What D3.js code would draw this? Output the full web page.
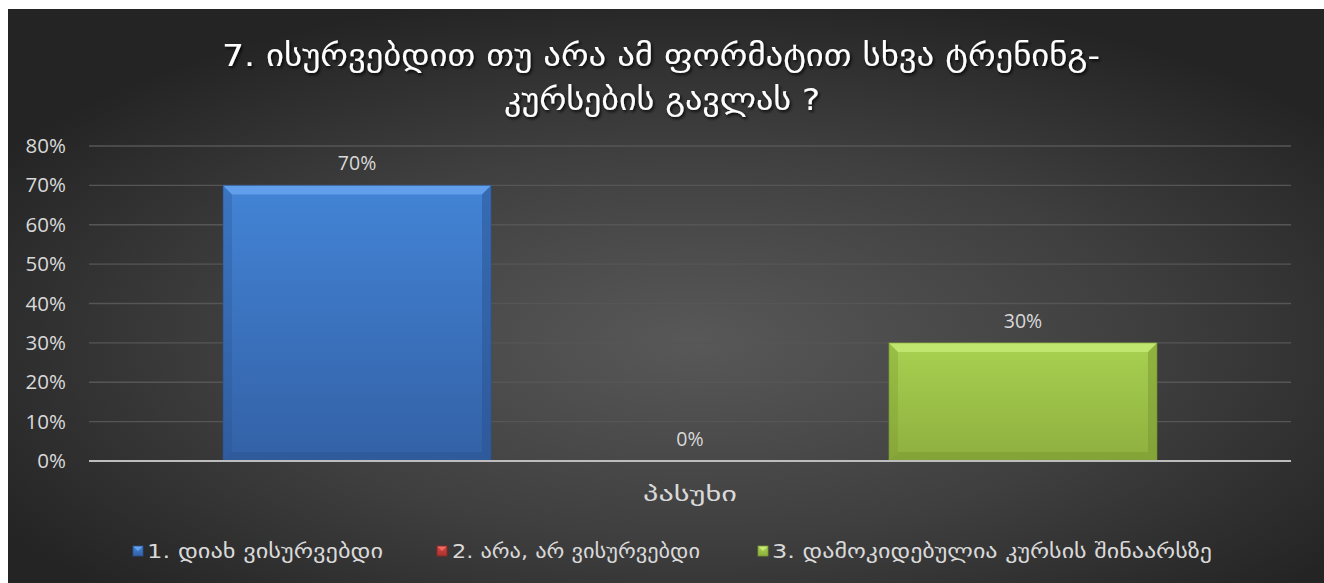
<!DOCTYPE html>
<html>
<head>
<meta charset="utf-8">
<script src="https://cdn.jsdelivr.net/npm/d3@7/dist/d3.min.js"></script>
<style>
  html, body { margin: 0; padding: 0; background: #ffffff; }
  svg { display: block; }
</style>
</head>
<body>
<div id="chart"></div>
<script>
// Survey question 7 — share of answers per option
const categories = ["პასუხი"];
const seriesNames = [
  "1. დიახ ვისურვებდი",
  "2. არა, არ ვისურვებდი",
  "3. დამოკიდებულია კურსის შინაარსზე"
];
const seriesValues = [0.70, 0.00, 0.30];
const yTicks = [0, 0.1, 0.2, 0.3, 0.4, 0.5, 0.6, 0.7, 0.8];
const titleLines = [
  "7. ისურვებდით თუ არა ამ ფორმატით სხვა ტრენინგ-",
  "კურსების გავლას ?"
];
const seriesColors = [
  { top: "#4384d6", bottom: "#3361a6", light: "#66a3ee", dark: "#2a5290" },
  { top: "#d6453f", bottom: "#a83330", light: "#ee6a64", dark: "#8a2622" },
  { top: "#a8d150", bottom: "#8eaf3f", light: "#c6ea74", dark: "#77952f" }
];

const W = 1324, H = 583;
const frame = { x: 8, y: 9 };
const margin = { left: 89, right: 33, top: 146, bottom: 122 };
const GEO_FONT = "'DejaVu Sans', sans-serif";
const NUM_FONT = "'Open Sans', 'Liberation Sans', sans-serif";

const svg = d3.select("#chart").append("svg")
  .attr("width", W).attr("height", H);
const defs = svg.append("defs");

// background radial glow
const bg = defs.append("radialGradient").attr("id", "bgGrad")
  .attr("cx", "52%").attr("cy", "58%").attr("r", "62%");
bg.append("stop").attr("offset", "0%").attr("stop-color", "#585858");
bg.append("stop").attr("offset", "55%").attr("stop-color", "#3f3f3f");
bg.append("stop").attr("offset", "100%").attr("stop-color", "#242424");

svg.append("rect")
  .attr("x", frame.x).attr("y", frame.y)
  .attr("width", W - frame.x).attr("height", H - frame.y)
  .attr("fill", "url(#bgGrad)");

// title shadow
const shadow = defs.append("filter").attr("id", "titleShadow")
  .attr("x", "-10%").attr("y", "-30%").attr("width", "120%").attr("height", "160%");
shadow.append("feDropShadow").attr("dx", 1.5).attr("dy", 2)
  .attr("stdDeviation", 1.5).attr("flood-color", "#000").attr("flood-opacity", 0.85);

// bar gradients
seriesColors.forEach((c, i) => {
  const g = defs.append("linearGradient").attr("id", "barGrad" + i)
    .attr("x1", 0).attr("y1", 0).attr("x2", 0).attr("y2", 1);
  g.append("stop").attr("offset", "0%").attr("stop-color", c.top);
  g.append("stop").attr("offset", "100%").attr("stop-color", c.bottom);
});

const plotW = W - margin.left - margin.right;
const plotH = H - margin.top - margin.bottom;
const x0 = d3.scaleBand().domain(categories)
  .range([margin.left, margin.left + plotW]).paddingInner(0).paddingOuter(0.1435);
const x1 = d3.scaleBand().domain(d3.range(seriesNames.length))
  .range([0, x0.bandwidth()]).paddingInner(0.195).paddingOuter(0);
const y = d3.scaleLinear().domain([0, 0.8]).range([margin.top + plotH, margin.top]);

// gridlines
svg.append("g").selectAll("line").data(yTicks.filter(t => t > 0)).join("line")
  .attr("x1", margin.left).attr("x2", margin.left + plotW)
  .attr("y1", d => y(d)).attr("y2", d => y(d))
  .attr("stroke", "#565656").attr("stroke-width", 1.3);

// y axis labels
const yAxis = d3.axisLeft(y).tickValues(yTicks).tickFormat(d3.format(".0%"))
  .tickSize(0).tickPadding(23);
const yg = svg.append("g").attr("transform", `translate(${margin.left},0)`).call(yAxis);
yg.select(".domain").remove();
yg.selectAll("text").attr("fill", "#d9d9d9").attr("font-size", 20.5)
  .attr("font-family", NUM_FONT);

// bars with bevelled edges
const bev = 9;
const barData = seriesValues.map((v, i) => ({ v, i, cat: categories[0] }));
const bars = svg.append("g").selectAll("g").data(barData).join("g");
bars.each(function (d) {
  const g = d3.select(this);
  const bx = x0(d.cat) + x1(d.i), bw = x1.bandwidth();
  const by = y(d.v), bh = y(0) - y(d.v);
  if (bh <= 0) return;
  const c = seriesColors[d.i];
  g.append("rect").attr("x", bx).attr("y", by).attr("width", bw).attr("height", bh)
    .attr("fill", `url(#barGrad${d.i})`);
  const b = Math.min(bev, bh / 2);
  // top bevel
  g.append("path").attr("d",
    `M${bx},${by}L${bx + bw},${by}L${bx + bw - b},${by + b}L${bx + b},${by + b}Z`)
    .attr("fill", c.light).attr("opacity", 0.85);
  // left bevel
  g.append("path").attr("d",
    `M${bx},${by}L${bx + b},${by + b}L${bx + b},${by + bh - b}L${bx},${by + bh}Z`)
    .attr("fill", c.dark).attr("opacity", 0.3);
  // right bevel
  g.append("path").attr("d",
    `M${bx + bw},${by}L${bx + bw - b},${by + b}L${bx + bw - b},${by + bh - b}L${bx + bw},${by + bh}Z`)
    .attr("fill", c.dark).attr("opacity", 0.5);
  // bottom bevel
  g.append("path").attr("d",
    `M${bx},${by + bh}L${bx + b},${by + bh - b}L${bx + bw - b},${by + bh - b}L${bx + bw},${by + bh}Z`)
    .attr("fill", c.dark).attr("opacity", 0.45);
  // dark outline on sides
  g.append("rect").attr("x", bx).attr("y", by).attr("width", bw).attr("height", bh)
    .attr("fill", "none").attr("stroke", c.dark).attr("stroke-opacity", 0.6).attr("stroke-width", 1);
});

// baseline axis
svg.append("line")
  .attr("x1", margin.left).attr("x2", margin.left + plotW)
  .attr("y1", y(0)).attr("y2", y(0))
  .attr("stroke", "#bdbdbd").attr("stroke-width", 2.2);

// value labels
svg.append("g").selectAll("text").data(barData).join("text")
  .attr("x", d => x0(d.cat) + x1(d.i) + x1.bandwidth() / 2)
  .attr("y", d => y(d.v) - 15)
  .attr("text-anchor", "middle")
  .attr("fill", "#d9d9d9").attr("font-size", 19.5).attr("font-family", NUM_FONT)
  .text(d => d3.format(".0%")(d.v));

// category label
svg.append("g").selectAll("text").data(categories).join("text")
  .attr("x", d => x0(d) + x0.bandwidth() / 2)
  .attr("y", y(0) + 40)
  .attr("text-anchor", "middle")
  .attr("fill", "#d9d9d9").attr("font-size", 19).attr("font-family", GEO_FONT)
  .attr("textLength", 94).attr("lengthAdjust", "spacingAndGlyphs")
  .text(d => d);

// title
const titleSpans = [
  { cx: 661, y: 66, width: 878 },
  { cx: 662, y: 110, width: 316 }
];
svg.append("g").attr("filter", "url(#titleShadow)")
  .selectAll("text").data(titleLines).join("text")
  .attr("x", (d, i) => titleSpans[i].cx)
  .attr("y", (d, i) => titleSpans[i].y)
  .attr("text-anchor", "middle")
  .attr("fill", "#ffffff").attr("font-size", 31).attr("font-family", GEO_FONT)
  .attr("textLength", (d, i) => titleSpans[i].width)
  .attr("lengthAdjust", "spacingAndGlyphs")
  .text(d => d);

// legend
const legendItems = [
  { mx: 133, tx: 147, tw: 236 },
  { mx: 437, tx: 452, tw: 248 },
  { mx: 758, tx: 772, tw: 440 }
];
const legendY = 551;
const lg = svg.append("g").selectAll("g").data(seriesNames).join("g");
lg.each(function (name, i) {
  const g = d3.select(this);
  const c = seriesColors[i], it = legendItems[i];
  const s = 10, mx = it.mx, my = legendY - 5;
  g.append("rect").attr("x", mx).attr("y", my).attr("width", s).attr("height", s)
    .attr("fill", `url(#barGrad${i})`);
  g.append("path").attr("d", `M${mx},${my}L${mx + s},${my}L${mx + s / 2},${my + s / 2}Z`)
    .attr("fill", c.light);
  g.append("rect").attr("x", mx).attr("y", my).attr("width", s).attr("height", s)
    .attr("fill", "none").attr("stroke", c.dark).attr("stroke-width", 0.8);
  g.append("text").attr("x", it.tx).attr("y", legendY + 7)
    .attr("fill", "#d9d9d9").attr("font-size", 20).attr("font-family", GEO_FONT)
    .attr("textLength", it.tw).attr("lengthAdjust", "spacingAndGlyphs")
    .text(name);
});
</script>
</body>
</html>
